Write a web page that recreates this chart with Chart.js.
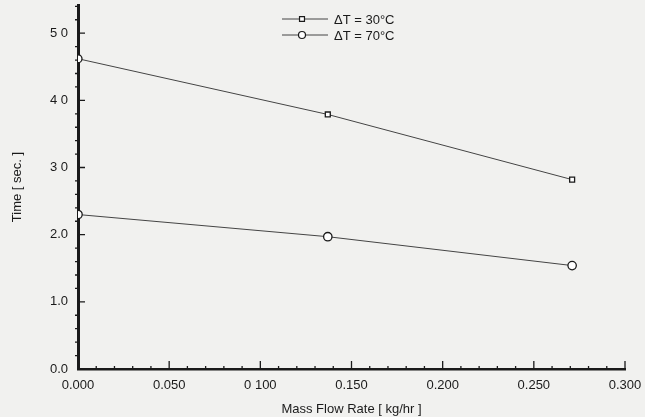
<!DOCTYPE html>
<html>
<head>
<meta charset="utf-8">
<script src="https://cdn.jsdelivr.net/npm/chart.js@4/dist/chart.umd.min.js"></script>
<style>
  html, body { margin: 0; padding: 0; background: #f1f1ef; }
  #wrap { width: 645px; height: 417px; }
</style>
</head>
<body>
<div id="wrap"><canvas id="c" width="645" height="417"></canvas></div>
<script>
// values
const flowRates = [0.000, 0.137, 0.271];
const series30 = [4.62, 3.79, 2.82];
const series70 = [2.30, 1.97, 1.54];
const seriesNames = ['\u0394T = 30\u00b0C', '\u0394T = 70\u00b0C'];
const xTickValues = [0, 0.05, 0.1, 0.15, 0.2, 0.25, 0.3];
const xTickLabels = ['0.000', '0.050', '0 100', '0.150', '0.200', '0.250', '0.300'];
const yTickValues = [0, 1, 2, 3, 4, 5];
const yTickLabels = ['0.0', '1.0', '2.0', '3 0', '4 0', '5 0'];

const ink = '#1a1a1a';
const lineInk = '#444';
const font = 'Liberation Sans, Arial, Helvetica, sans-serif';

function toPoints(xs, ys) {
    return xs.map((x, i) => ({x: x, y: ys[i]}));
}

// axis ticks (major + minor) drawn by hand, like the original plot
const axisTicks = {
    id: 'axisTicks',
    afterDraw(chart) {
        const ctx = chart.ctx;
        const xs = chart.scales.x, ys = chart.scales.y;
        const y0 = ys.getPixelForValue(0);
        const x0 = xs.getPixelForValue(0);
        ctx.save();
        ctx.strokeStyle = ink;
        ctx.lineWidth = 1.3;
        ctx.beginPath();
        for (let i = 0; i <= 30; i++) {
            const px = xs.getPixelForValue(i / 100);
            const len = i % 5 === 0 ? 8 : 3;
            ctx.moveTo(px, y0);
            ctx.lineTo(px, y0 - len);
        }
        for (let i = 0; i <= 27; i++) {
            const py = ys.getPixelForValue(i / 5);
            if (i % 5 === 0) {
                ctx.moveTo(x0, py);
                ctx.lineTo(x0 + 7, py);
            } else {
                ctx.moveTo(x0, py);
                ctx.lineTo(x0 - 3, py);
            }
        }
        ctx.stroke();
        ctx.restore();
    }
};

// legend at the top: line, marker, label
const lineLegend = {
    id: 'lineLegend',
    afterDraw(chart) {
        const ctx = chart.ctx;
        const styles = ['rect', 'circle'];
        const rows = [19, 35];
        ctx.save();
        ctx.font = '13px ' + font;
        ctx.textBaseline = 'middle';
        ctx.fillStyle = ink;
        seriesNames.forEach((name, i) => {
            const y = rows[i];
            ctx.strokeStyle = lineInk;
            ctx.lineWidth = 1;
            ctx.beginPath();
            ctx.moveTo(282, y);
            ctx.lineTo(328, y);
            ctx.stroke();
            ctx.fillStyle = '#fff';
            ctx.lineWidth = 1.2;
            ctx.strokeStyle = ink;
            Chart.helpers.drawPoint(ctx, {pointStyle: styles[i], radius: 3.5, rotation: 0, borderWidth: 1.2}, 302, y);
            ctx.fillStyle = ink;
            ctx.fillText(name, 334, y + 1);
        });
        ctx.restore();
    }
};

new Chart(document.getElementById('c'), {
    type: 'line',
    data: {
        datasets: [{
            label: seriesNames[0],
            data: toPoints(flowRates, series30),
            borderColor: lineInk,
            borderWidth: 1,
            pointStyle: ['circle', 'rect', 'rect'],
            pointRadius: [4, 3.5, 3.5],
            pointBackgroundColor: '#fff',
            pointBorderColor: ink,
            pointBorderWidth: 1.3,
            tension: 0
        }, {
            label: seriesNames[1],
            data: toPoints(flowRates, series70),
            borderColor: lineInk,
            borderWidth: 1,
            pointStyle: 'circle',
            pointRadius: 4.2,
            pointBackgroundColor: '#fff',
            pointBorderColor: ink,
            pointBorderWidth: 1.3,
            tension: 0
        }]
    },
    options: {
        responsive: false,
        animation: false,
        layout: {autoPadding: false, padding: {left: 0, top: 5, right: 20, bottom: 0}},
        plugins: {
            legend: {display: false},
            tooltip: {enabled: false}
        },
        scales: {
            x: {
                type: 'linear',
                min: 0,
                max: 0.3,
                afterBuildTicks: s => { s.ticks = xTickValues.map(v => ({value: v})); },
                afterFit: s => { s.height = 48; s.paddingLeft = 0; s.paddingRight = 0; },
                grid: {display: false, drawTicks: false},
                border: {display: true, color: ink, width: 2.5},
                ticks: {
                    color: ink,
                    padding: 9,
                    maxRotation: 0,
                    font: {family: font, size: 13},
                    callback: (v, i) => xTickLabels[i]
                },
                title: {
                    display: true,
                    text: 'Mass Flow Rate [ kg/hr ]',
                    color: ink,
                    padding: {top: 4, bottom: 0},
                    font: {family: font, size: 13}
                }
            },
            y: {
                type: 'linear',
                min: 0,
                max: 5.42,
                afterBuildTicks: s => { s.ticks = yTickValues.map(v => ({value: v})); },
                afterFit: s => { s.width = 78; s.paddingTop = 0; s.paddingBottom = 0; },
                grid: {display: false, drawTicks: false},
                border: {display: true, color: ink, width: 3},
                ticks: {
                    color: ink,
                    padding: 10,
                    font: {family: font, size: 13},
                    callback: (v, i) => yTickLabels[i]
                },
                title: {
                    display: true,
                    text: 'Time [ sec. ]',
                    color: ink,
                    padding: {top: 10, bottom: 12},
                    font: {family: font, size: 13}
                }
            }
        }
    },
    plugins: [axisTicks, lineLegend]
});
</script>
</body>
</html>
